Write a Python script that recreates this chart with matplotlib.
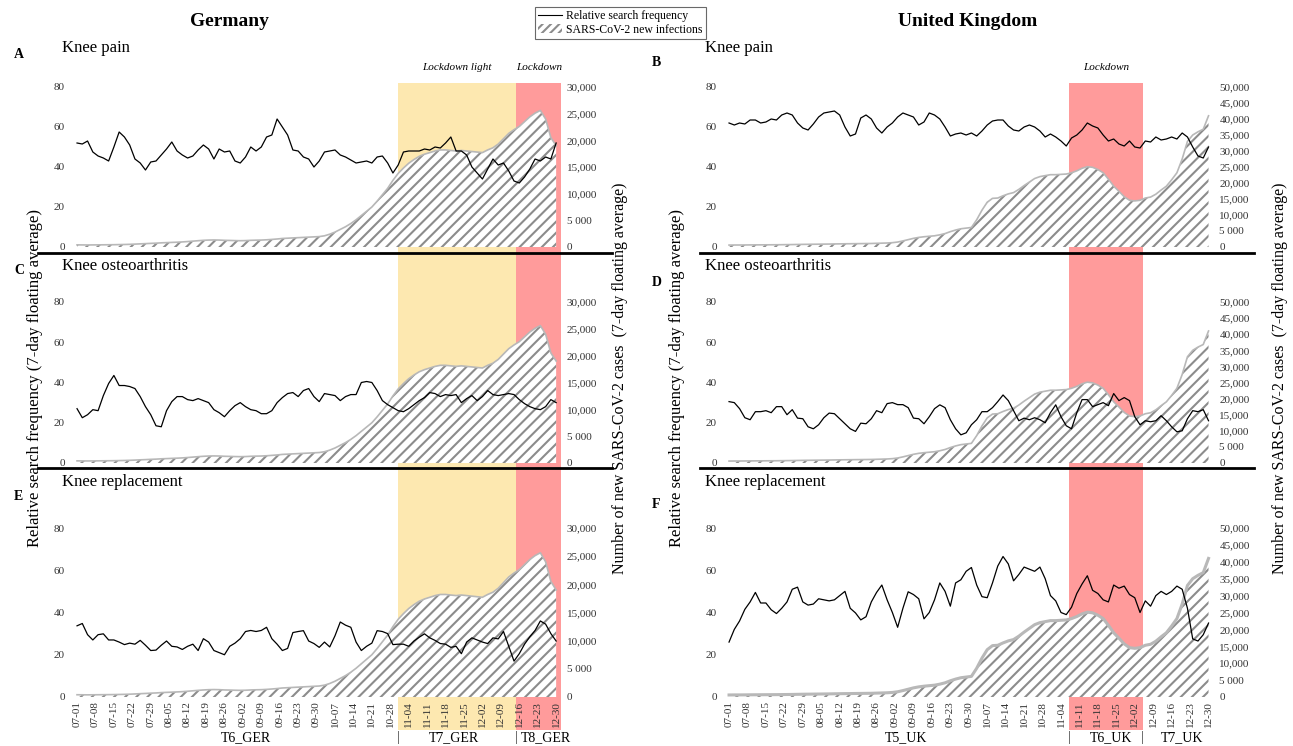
import numpy as np
import pandas as pd
import matplotlib
matplotlib.use('Agg')
import matplotlib.pyplot as plt
import matplotlib.dates as mdates
from matplotlib.patches import Rectangle, Patch
from matplotlib.lines import Line2D
from matplotlib.transforms import blended_transform_factory

plt.rcParams['font.family'] = ['Liberation Serif', 'DejaVu Serif']
plt.rcParams['hatch.linewidth'] = 1.5

# every second day, 07-01 .. 12-30 (7-day floating averages)
dates = pd.date_range('2020-07-01', '2020-12-30', freq='2D')
week_ticks = pd.date_range('2020-07-01', '2020-12-30', freq='7D')
week_labels = [d.strftime('%m-%d') for d in week_ticks]

ger_cases = [400, 390, 380, 390, 400, 410, 420, 430, 450, 470,
             500, 540, 590, 630, 680, 720, 780, 820, 860, 900,
             950, 1020, 1100, 1180, 1250, 1300, 1320, 1300, 1250, 1230,
             1200, 1180, 1200, 1250, 1280, 1300, 1350, 1420, 1500, 1600,
             1650, 1700, 1750, 1800, 1850, 1900, 1950, 2100, 2400, 2800,
             3300, 3800, 4400, 5100, 5900, 6700, 7500, 8600, 9800, 11000,
             12500, 13800, 14800, 15700, 16400, 17000, 17400, 17700, 18000, 18200,
             18200, 18100, 18000, 18100, 18000, 17900, 17800, 17700, 18200, 18600,
             19300, 20300, 21300, 22000, 22600, 23500, 24400, 25100, 25600, 24000,
             20500, 19000]

ger_pain = [52, 51.5, 53, 47.5, 45.5, 44.5, 43, 50, 57.5, 55,
            51, 44, 42, 38.5, 42.5, 43, 46, 49, 52.5, 48,
            46, 44.5, 45.5, 48.5, 51, 49, 44, 49, 47.5, 48,
            43, 42, 45, 50, 48, 50, 55, 56, 64, 60,
            56, 48.5, 48, 45, 44, 40, 43, 47.5, 48, 48.5,
            46, 45, 43.5, 42, 42.5, 43, 42, 45, 45.5, 42,
            37, 41, 47.5, 48, 48, 48, 49, 48.5, 50, 49.5,
            52, 55, 48, 48, 46, 40, 37, 34, 39, 44,
            41, 42, 38, 33, 32, 35, 39, 44, 43, 45,
            44, 52]

ger_oa = [27, 22.5, 24, 26.5, 26, 33.5, 39.5, 43.5, 38.5, 38.5,
          38, 37, 33, 28, 24, 18.5, 18, 26, 30.5, 33,
          33, 31.5, 31, 32, 31, 30, 26.5, 25, 23, 26,
          28.5, 30, 28, 26.5, 26, 24.5, 24.5, 26, 30, 32.5,
          34.5, 35, 33, 36, 37, 33, 30.5, 34.5, 34, 33.5,
          31, 33, 34, 34, 40, 40.5, 40, 36, 31, 29,
          27.5, 26, 25.5, 27, 29, 31, 32.5, 35, 34.5, 33,
          34, 33.5, 34, 30, 32, 33.5, 31, 33, 36, 34,
          33.5, 34, 34.5, 34, 31.5, 29.5, 28, 27, 26.5, 28,
          31.5, 30]

ger_repl = [33.7, 34.8, 29.5, 27, 29.5, 29.9, 27, 27, 26, 24.8,
            25.5, 25, 26.8, 24.5, 22, 22.2, 24.5, 26.5, 24, 23.7,
            22.5, 24, 25, 22, 27.6, 26, 22, 21, 20, 24,
            25.5, 27.6, 31, 31.5, 31, 31.5, 33, 27.6, 25, 22,
            23, 30.5, 31, 31.4, 26.5, 25.3, 23.5, 26, 23.7, 29,
            35.5, 34, 33, 26, 22, 24, 25.5, 31.4, 31, 30,
            24.8, 25, 25, 24, 26.5, 28.3, 29.9, 28, 26.8, 25.3,
            25, 23.5, 24, 20.5, 26, 28, 27, 26, 25.3, 28,
            27.5, 31, 24, 17, 20.5, 25, 28.5, 31.5, 36, 34.5,
            30, 26.5]

uk_cases = [600, 620, 620, 630, 650, 660, 670, 680, 690, 700,
            720, 740, 760, 790, 820, 840, 860, 880, 900, 920,
            950, 980, 1000, 1020, 1040, 1060, 1080, 1100, 1150, 1200,
            1250, 1350, 1550, 1900, 2300, 2700, 3000, 3200, 3350, 3500,
            3800, 4200, 4800, 5300, 5700, 5900, 6100, 8500, 11500, 14000,
            15200, 15300, 16000, 16600, 17000, 18000, 19200, 20300, 21400, 22000,
            22300, 22600, 22600, 22700, 22800, 23200, 23800, 24600, 25100, 24900,
            24200, 23200, 21200, 19000, 17400, 15700, 14600, 14400, 14600, 15300,
            15600, 16500, 17800, 19000, 21000, 23200, 27500, 33000, 35000, 36000,
            36800, 41000]

uk_pain = [62, 61, 62, 61.5, 63.5, 63.5, 62, 62.5, 64, 63.5,
           66, 67, 66, 62, 59.5, 58.5, 61.5, 65, 67, 67.5,
           68, 66, 60, 55.5, 56.5, 64.5, 66, 64, 59.5, 57,
           60, 62, 65, 67, 66, 65, 61, 62.5, 67, 66,
           64, 60, 55.5, 56.5, 57, 56, 57, 55.5, 58, 61,
           63, 63.5, 63.5, 60.5, 58.5, 58, 60, 61, 60, 58,
           55, 56.5, 55, 53, 50.5, 54.5, 56, 58.5, 62, 60.5,
           59.5, 56, 53, 54, 51.5, 50.5, 53, 50, 49.5, 53,
           52.5, 55, 53.5, 54, 55, 54, 57, 55, 50, 45.5,
           44.5, 50]

uk_oa = [30.5, 30, 27, 22.5, 21.5, 25.5, 25.5, 26, 25, 28,
         28, 24, 26.5, 22.3, 22, 18, 17, 19, 22.5, 24.8,
         24.5, 22, 19.5, 17, 15.7, 19.8, 19.5, 22, 26, 25,
         29.5, 30, 29, 29, 27.5, 22.3, 22, 19.5, 23, 27,
         28.9, 27.5, 21.5, 17, 14, 15, 19, 21.5, 25.5, 25.5,
         27.5, 30.5, 33.8, 31, 26, 21, 22.3, 21.5, 22.5, 21.5,
         20, 25, 28.9, 23, 18.5, 17, 25, 31.5, 31.5, 28,
         29, 30, 28.5, 34.5, 31, 32.5, 31, 23, 19, 21,
         20.5, 21, 23.5, 21, 18, 15.5, 16, 22, 26, 25.5,
         26.5, 21]

uk_repl = [26, 32, 36, 41.5, 45, 49.5, 44.5, 44.5, 41.3, 39.5,
           42, 45, 51, 52, 45, 43.5, 44, 46.5, 46, 45.5,
           46, 48, 50, 42, 39.8, 36.5, 38, 45, 49.5, 53,
           46, 40, 33, 42, 49.8, 48.5, 46.5, 37, 40, 46,
           54, 50, 43, 54, 55.5, 59.5, 61.3, 53, 47.5, 47,
           54, 62, 66.5, 63, 55, 58, 61.5, 60.5, 59.5, 61.5,
           56, 48, 45.5, 40, 39, 42.5, 49, 53.5, 57.4, 50.5,
           49, 46, 45, 53, 51.5, 52.5, 48.5, 47, 40, 45.5,
           43, 48, 50, 48.5, 50, 52.5, 51, 42, 27.5, 26.5,
           29.5, 35]

search_ticks = [0, 20, 40, 60, 80]
ger_case_ticks = [0, 5000, 10000, 15000, 20000, 25000, 30000]
ger_case_labels = ['0', '5 000', '10,000', '15,000', '20,000', '25,000', '30,000']
uk_case_ticks = [0, 5000, 10000, 15000, 20000, 25000, 30000, 35000, 40000, 45000, 50000]
uk_case_labels = ['0', '5 000', '10,000', '15,000', '20,000', '25,000', '30,000',
                  '35,000', '40,000', '45,000', '50,000']

# lockdown periods (as drawn) and period labels
ger_light = ('2020-10-31', '2020-12-14 18:00')
ger_lock = ('2020-12-14 18:00', '2021-01-01')
uk_lock = ('2020-11-07', '2020-12-05')
ger_periods = [('T6_GER', '2020-09-03'), ('T7_GER', '2020-11-21'), ('T8_GER', '2020-12-26')]
uk_periods = [('T5_UK', '2020-09-06'), ('T6_UK', '2020-11-23'), ('T7_UK', '2020-12-20')]

YELLOW = '#fde8b0'
RED = '#ff9b9b'
xlim = (pd.Timestamp('2020-06-30'), pd.Timestamp('2021-01-01'))

W, H = 1293, 746
fig = plt.figure(figsize=(W / 100, H / 100), dpi=100)


def fx(px):
    return px / W


def fy(py):
    return 1 - py / H


def dnum(d):
    return mdates.date2num(pd.Timestamp(d))


def frame(x0, top, x1, bottom):
    return [x0 / W, 1 - bottom / H, (x1 - x0) / W, (bottom - top) / H]


def draw_panel(rect, search, cases, case_max, case_ticks, case_labels, edge_lw=1.2, show_dates=False):
    ax = fig.add_axes(rect)
    ax2 = ax.twinx()
    ax.set_zorder(ax2.get_zorder() + 1)
    ax.patch.set_visible(False)
    ax2.patch.set_visible(False)

    ax2.fill_between(dates, 0, cases, facecolor='white', edgecolor='#8c8c8c',
                     hatch='///', linewidth=0)
    ax2.plot(dates, cases, color='#b8b8b8', lw=edge_lw)
    ax.plot(dates, search, color='black', lw=0.9)

    ax.set_xlim(xlim)
    ax.set_ylim(0, 80)
    ax2.set_ylim(0, case_max)
    ax.set_yticks(search_ticks)
    ax2.set_yticks(case_ticks)
    ax2.set_yticklabels(case_labels)
    ax.set_xticks(week_ticks)
    if show_dates:
        ax.set_xticklabels(week_labels, rotation=90)
    else:
        ax.set_xticklabels([])
    for a in (ax, ax2):
        for s in a.spines.values():
            s.set_visible(False)
        a.tick_params(length=0, labelsize=8, colors='#333333')
    ax.tick_params(axis='y', pad=7)
    ax2.tick_params(axis='y', pad=4)
    ax.tick_params(axis='x', pad=3)
    return ax


rows = [(87, 247), (302, 463), (528, 697)]
ger_x = (74.4, 561.4)
uk_x = (726.4, 1213.8)

ger_axes = []
for (top, bot), s, last in zip(rows, [ger_pain, ger_oa, ger_repl], [False, False, True]):
    ger_axes.append(draw_panel(frame(ger_x[0], top, ger_x[1], bot), s, ger_cases,
                               30000, ger_case_ticks, ger_case_labels, show_dates=last))
uk_axes = []
for (top, bot), s, last in zip(rows, [uk_pain, uk_oa, uk_repl], [False, False, True]):
    uk_axes.append(draw_panel(frame(uk_x[0], top, uk_x[1], bot), s, uk_cases,
                              50000, uk_case_ticks, uk_case_labels,
                              edge_lw=2.2 if last else 1.2, show_dates=last))

# lockdown bands, running through all three panels of a column
band_top, band_bot = fy(83), fy(730)
ger_tr = blended_transform_factory(ger_axes[0].transData, fig.transFigure)
uk_tr = blended_transform_factory(uk_axes[0].transData, fig.transFigure)
for (start, end), color, tr in [(ger_light, YELLOW, ger_tr), (ger_lock, RED, ger_tr), (uk_lock, RED, uk_tr)]:
    x0, x1 = dnum(start), dnum(end)
    fig.add_artist(Rectangle((x0, band_bot), x1 - x0, band_top - band_bot, transform=tr,
                             facecolor=color, edgecolor='none', zorder=-5))


def mid(period):
    return (dnum(period[0]) + dnum(period[1])) / 2


fig.text(mid(ger_light), fy(67), 'Lockdown light', transform=ger_tr, ha='center', va='center',
         fontsize=8, style='italic')
fig.text(mid(ger_lock), fy(67), 'Lockdown', transform=ger_tr, ha='center', va='center',
         fontsize=8, style='italic')
fig.text(mid(uk_lock), fy(67), 'Lockdown', transform=uk_tr, ha='center', va='center',
         fontsize=8, style='italic')

# period labels under the date axis
for tr, periods, seps in [(ger_tr, ger_periods, [ger_light[0], ger_lock[0]]),
                          (uk_tr, uk_periods, [uk_lock[0], uk_lock[1]])]:
    for name, d in periods:
        fig.text(dnum(d), fy(738), name, transform=tr, ha='center', va='center', fontsize=10)
    for d in seps:
        fig.text(dnum(d), fy(738), '|', transform=tr, ha='center', va='center',
                 fontsize=10, color='#444444')

# separators between panels
for y in (253, 468):
    fig.add_artist(Line2D([fx(38), fx(612)], [fy(y), fy(y)], transform=fig.transFigure, color='black', lw=2))
    fig.add_artist(Line2D([fx(700), fx(1254)], [fy(y), fy(y)], transform=fig.transFigure, color='black', lw=2))

# titles, letters, axis labels
fig.text(fx(229), fy(22), 'Germany', ha='center', va='center', fontsize=14, fontweight='bold')
fig.text(fx(968), fy(22), 'United Kingdom', ha='center', va='center', fontsize=14, fontweight='bold')
for letter, name, (lx, ly), (tx, ty) in [('A', 'Knee pain', (14, 55), (62, 48)),
                                         ('C', 'Knee osteoarthritis', (14, 270), (62, 266)),
                                         ('E', 'Knee replacement', (14, 497), (62, 482)),
                                         ('B', 'Knee pain', (652, 63), (705, 48)),
                                         ('D', 'Knee osteoarthritis', (652, 283), (705, 266)),
                                         ('F', 'Knee replacement', (652, 505), (705, 482))]:
    fig.text(fx(lx), fy(ly), letter, ha='left', va='center', fontsize=10, fontweight='bold')
    fig.text(fx(tx), fy(ty), name, ha='left', va='center', fontsize=12)

left_lab = 'Relative search frequency (7-day floating average)'
right_lab = 'Number of new SARS-CoV-2 cases  (7-day floating average)'
for x in (35, 677):
    fig.text(fx(x), fy(378), left_lab, rotation=90, ha='center', va='center', fontsize=12)
for x in (620, 1280):
    fig.text(fx(x), fy(378), right_lab, rotation=90, ha='center', va='center', fontsize=11.5)

handles = [Line2D([], [], color='black', lw=0.8),
           Patch(facecolor='white', edgecolor='#8c8c8c', hatch='////', lw=0)]
leg = fig.legend(handles, ['Relative search frequency', 'SARS-CoV-2 new infections'],
                 loc='center', bbox_to_anchor=(fx(620.5), fy(23)), fontsize=8.5, frameon=True,
                 fancybox=False, edgecolor='#444444', handlelength=2.0, handleheight=0.8,
                 borderpad=0.3, labelspacing=0.15, handletextpad=0.4)
leg.get_frame().set_linewidth(0.8)

fig.savefig('out.png', dpi=100, facecolor='white')
